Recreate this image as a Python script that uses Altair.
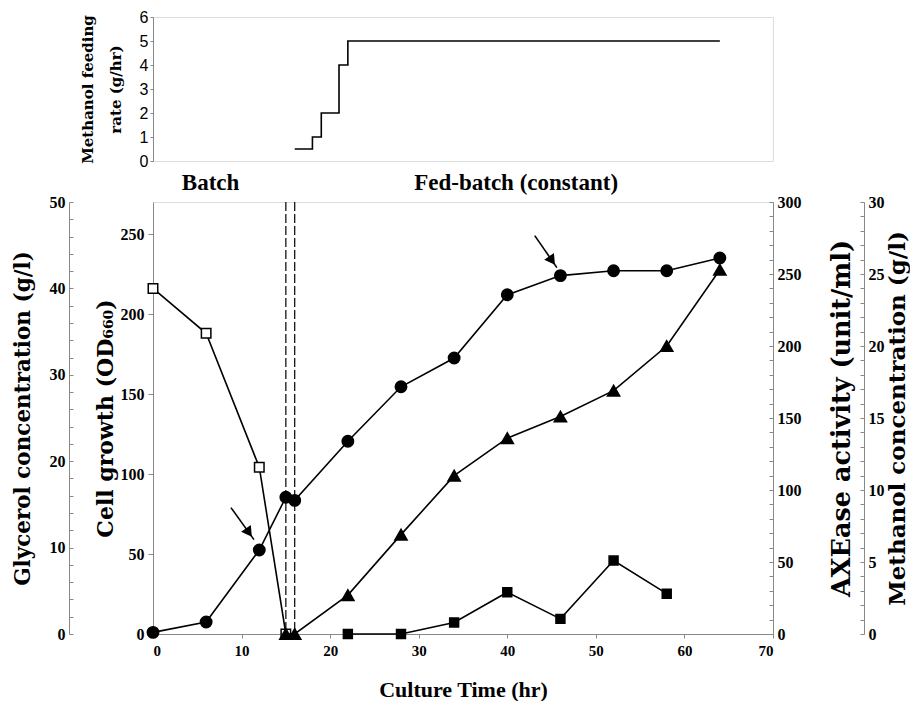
import altair as alt
import pandas as pd

SERIF = "Liberation Serif"
WIDE = "DejaVu Serif"
SANS = "Liberation Sans"

# ---------------- data ----------------
feed_t = [16, 18, 19, 21, 22, 64]
feed_rate = [0.5, 1, 2, 4, 5, 5]

gly_t = [0, 6, 12, 15]
gly_val = [40, 34.8, 19.3, 0]

cell_t = [0, 6, 12, 15, 16, 22, 28, 34, 40, 46, 52, 58, 64]
cell_val = [1, 7.5, 52.5, 85.5, 83.5, 120.5, 154.5, 172.5, 212, 224, 227, 227, 235]

axe_t = [15, 16, 22, 28, 34, 40, 46, 52, 58, 64]
axe_val = [0, 0, 27, 69, 110, 136, 151, 169, 200, 253]

meth_t = [22, 28, 34, 40, 46, 52, 58]
meth_val = [0, 0, 0.8, 2.9, 1.05, 5.1, 2.8]

phase_lines = [15, 16]

arrow_t0 = [8.8, 43.1]
arrow_y0 = [79, 249]
arrow_t1 = [11.4, 45.6]
arrow_y1 = [59, 229]

phase_names = ["Batch", "Fed-batch (constant)"]
phase_t = [6.5, 41]

# ---------------- frames ----------------
feed_df = pd.DataFrame({"t": feed_t, "v": feed_rate})
gly_df = pd.DataFrame({"t": gly_t, "v": gly_val})
cell_df = pd.DataFrame({"t": cell_t, "v": cell_val})
axe_df = pd.DataFrame({"t": axe_t, "v": axe_val})
meth_df = pd.DataFrame({"t": meth_t, "v": meth_val})
vline_df = pd.DataFrame({"t": phase_lines})
arrow_df = pd.DataFrame({"t": arrow_t0, "v": arrow_y0, "t2": arrow_t1, "v2": arrow_y1})
arrow_df["th"] = arrow_df["t"] + 0.78 * (arrow_df["t2"] - arrow_df["t"])
arrow_df["vh"] = arrow_df["v"] + 0.78 * (arrow_df["v2"] - arrow_df["v"])
phase_df = pd.DataFrame({"t": phase_t, "name": phase_names})

W = 620
H = 432

x_scale = alt.Scale(domain=[0, 70], nice=False, zero=False)
x_axis = alt.Axis(values=list(range(0, 71, 10)), title="Culture Time (hr)",
                  labelFont=SERIF, labelFontWeight="bold", labelFontSize=15,
                  titleFont=SERIF, titleFontWeight="bold", titleFontSize=22,
                  tickSize=4, labelPadding=5, titlePadding=21, grid=False)
X = alt.X("t:Q", scale=x_scale, axis=x_axis)


def main_axis(values, title, orient, offset, title_pad, size, angle=None, ticks=False):
    kw = dict(values=values, title=title, orient=orient, offset=offset,
              labelFont=SERIF, labelFontWeight="bold", labelFontSize=16,
              titleFont=WIDE, titleFontWeight="bold", titleFontSize=size,
              labelPadding=4, titlePadding=title_pad, grid=False)
    if ticks:
        kw["tickSize"] = 5
    else:
        kw["ticks"] = False
    if angle is not None:
        kw["titleAngle"] = angle
        kw["titleBaseline"] = "top"
    return alt.Axis(**kw)


def tick_layer(df, domain, values, orient, offset, size):
    ax = alt.Axis(values=values, title=None, orient=orient, offset=offset, labels=False,
                  domain=False, tickSize=size, grid=False)
    c = alt.Chart(df).mark_point(opacity=0).encode(
        x=X, y=alt.Y("v:Q", scale=alt.Scale(domain=domain, nice=False, zero=False), axis=ax))
    return alt.layer(c)


def series(df, domain, axis, shape, filled, size):
    y = alt.Y("v:Q", scale=alt.Scale(domain=domain, nice=False, zero=False), axis=axis)
    line = alt.Chart(df).mark_line(color="black", strokeWidth=1.6).encode(x=X, y=y)
    pts = alt.Chart(df).mark_point(
        shape=shape, filled=True, size=size, stroke="black", strokeWidth=1.5,
        fill="black" if filled else "white", opacity=1, fillOpacity=1
    ).encode(x=X, y=y)
    return alt.layer(line, pts)


gly_layer = series(gly_df, [0, 50],
                   main_axis(list(range(0, 51, 10)), "Glycerol concentration (g/l)", "left", 84, 15, 21.5),
                   "square", False, 90)
gly_ticks = tick_layer(gly_df, [0, 50], list(range(0, 51, 2)), "left", 80, 4)

cell_layer = series(cell_df, [0, 270],
                    main_axis(list(range(0, 251, 50)), "Cell growth (OD\u2086\u2086\u2080)", "left", 0, 3, 22, ticks=True),
                    "circle", True, 130)

axe_layer = series(axe_df, [0, 300],
                   main_axis(list(range(0, 301, 50)), "AXEase activity (unit/ml)", "right", 0, 28, 25.5, angle=270),
                   "triangle-up", True, 150)
axe_ticks = tick_layer(axe_df, [0, 300], list(range(0, 301, 10)), "right", -4, 4)

meth_layer = series(meth_df, [0, 30],
                    main_axis(list(range(0, 31, 5)), "Methanol concentration (g/l)", "right", 91, 2, 23, angle=270),
                    "square", True, 80)
meth_ticks = tick_layer(meth_df, [0, 30], list(range(0, 31, 1)), "right", 87, 4)

vlines = alt.Chart(vline_df).mark_rule(color="black", strokeWidth=1.2, strokeDash=[9, 3]).encode(x=X)

arrow_y_scale = alt.Scale(domain=[0, 270], nice=False, zero=False)
arrow_shaft = alt.Chart(arrow_df).mark_rule(color="black", strokeWidth=1.6).encode(
    x=X, x2="t2:Q",
    y=alt.Y("v:Q", scale=arrow_y_scale, axis=None), y2="v2:Q")
arrow_head = alt.Chart(arrow_df).mark_point(
    shape="triangle-up", filled=True, color="black", size=140, angle=145, opacity=1
).encode(x=alt.X("th:Q", scale=x_scale, axis=x_axis),
         y=alt.Y("vh:Q", scale=arrow_y_scale, axis=None))
arrows = alt.layer(arrow_shaft, arrow_head)

phase_text = alt.Chart(phase_df).mark_text(
    font=SERIF, fontWeight="bold", fontSize=23, baseline="middle", color="black"
).encode(x=X, y=alt.value(-19), text="name:N")

bottom = alt.layer(
    vlines, gly_layer, gly_ticks, cell_layer, axe_layer, axe_ticks, meth_layer, meth_ticks,
    arrows, phase_text
).resolve_scale(y="independent").properties(width=W, height=H)

top = alt.Chart(feed_df).mark_line(interpolate="step-after", color="black", strokeWidth=1.6).encode(
    x=alt.X("t:Q", scale=x_scale, axis=None),
    y=alt.Y("v:Q", scale=alt.Scale(domain=[0, 6], nice=False),
            axis=alt.Axis(values=list(range(7)), title=["Methanol feeding", "rate (g/hr)"],
                          labelFont=SANS, labelFontSize=16, titleFont=WIDE,
                          titleFontSize=15, titleFontWeight="bold", titleLineHeight=28,
                          tickSize=3, labelPadding=2, titlePadding=16, grid=False))
).properties(width=W, height=144)

chart = alt.vconcat(top, bottom, spacing=41, bounds="flush").properties(
    padding={"left": 3, "top": 0, "right": 0, "bottom": 0}
).configure_view(stroke="black", strokeWidth=1.5).configure_axis(
    domainColor="black", tickColor="black", labelColor="black", titleColor="black",
    domainWidth=1.5, tickWidth=1.2
).configure(background="white")

chart.save("out.html", embed_options={"renderer": "svg", "actions": False})
